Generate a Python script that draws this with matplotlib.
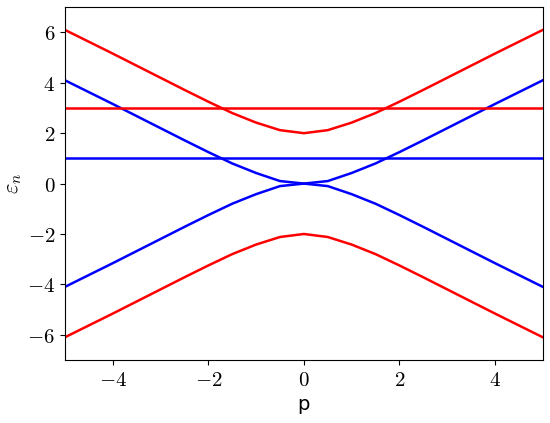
import matplotlib
matplotlib.use('Agg')
import matplotlib.pyplot as plt
from matplotlib.ticker import FuncFormatter
import numpy as np

plt.rcParams['mathtext.fontset'] = 'cm'

# momentum grid and band energies
p = [-5.0, -4.5, -4.0, -3.5, -3.0, -2.5, -2.0, -1.5, -1.0, -0.5, 0.0,
     0.5, 1.0, 1.5, 2.0, 2.5, 3.0, 3.5, 4.0, 4.5, 5.0]
blue_upper = [4.1, 3.63, 3.16, 2.68, 2.2, 1.72, 1.25, 0.8, 0.42, 0.1, 0.0,
              0.1, 0.42, 0.8, 1.25, 1.72, 2.2, 2.68, 3.16, 3.63, 4.1]
red_upper = [6.1, 5.63, 5.16, 4.68, 4.2, 3.72, 3.25, 2.8, 2.42, 2.12, 2.0,
             2.12, 2.42, 2.8, 3.25, 3.72, 4.2, 4.68, 5.16, 5.63, 6.1]
blue_lower = [-v for v in blue_upper]
red_lower = [-v for v in red_upper]
blue_flat = 1.0
red_flat = 3.0

fig = plt.figure(figsize=(5.5, 4.23), dpi=100)
ax = fig.add_axes([0.118, 0.149, 0.869, 0.834])

lw = 1.8
ax.plot(p, red_upper, color='red', lw=lw)
ax.plot(p, red_lower, color='red', lw=lw)
ax.plot(p, blue_upper, color='blue', lw=lw)
ax.plot(p, blue_lower, color='blue', lw=lw)
ax.axhline(red_flat, color='red', lw=lw)
ax.axhline(blue_flat, color='blue', lw=lw)

ax.set_xlim(-5, 5)
ax.set_ylim(-7, 7)
ax.set_xticks([-4, -2, 0, 2, 4])
ax.set_yticks([-6, -4, -2, 0, 2, 4, 6])
fmt = FuncFormatter(lambda v, pos: f"${v:g}$")
ax.xaxis.set_major_formatter(fmt)
ax.yaxis.set_major_formatter(fmt)
ax.tick_params(labelsize=15)

ax.set_xlabel('p', fontsize=14)
ax.set_ylabel(r'$\varepsilon_n$', fontsize=16, labelpad=2)

fig.savefig('out.png', dpi=100)
